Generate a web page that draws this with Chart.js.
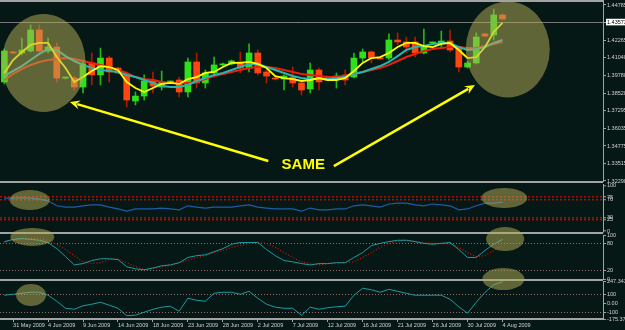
<!DOCTYPE html>
<html>
<head>
<meta charset="utf-8">
<title>EURUSD, Daily</title>
<script src="https://cdn.jsdelivr.net/npm/chart.js@4/dist/chart.umd.min.js"></script>
<style>
  html, body { margin: 0; padding: 0; background: #061816; overflow: hidden; }
  #terminal { position: relative; width: 625px; height: 330px; }
  #terminal canvas { position: absolute; left: 0; top: 0; }
</style>
</head>
<body>
<div id="terminal">
  <canvas id="priceChart" width="625" height="330"></canvas>
  <canvas id="rsiChart" width="625" height="330"></canvas>
  <canvas id="stochChart" width="625" height="330"></canvas>
  <canvas id="cciChart" width="625" height="330"></canvas>
</div>
<script>
// Daily bars, 29 May - 4 Aug 2009 (Sunday bars included)
const dates = [
    '29 May 2009', '31 May 2009', '1 Jun 2009', '2 Jun 2009', '3 Jun 2009', '4 Jun 2009', '5 Jun 2009', '7 Jun 2009',
    '8 Jun 2009', '9 Jun 2009', '10 Jun 2009', '11 Jun 2009', '12 Jun 2009', '14 Jun 2009', '15 Jun 2009', '16 Jun 2009',
    '17 Jun 2009', '18 Jun 2009', '19 Jun 2009', '21 Jun 2009', '22 Jun 2009', '23 Jun 2009', '24 Jun 2009', '25 Jun 2009',
    '26 Jun 2009', '28 Jun 2009', '29 Jun 2009', '30 Jun 2009', '1 Jul 2009', '2 Jul 2009', '3 Jul 2009', '5 Jul 2009',
    '6 Jul 2009', '7 Jul 2009', '8 Jul 2009', '9 Jul 2009', '10 Jul 2009', '12 Jul 2009', '13 Jul 2009', '14 Jul 2009',
    '15 Jul 2009', '16 Jul 2009', '17 Jul 2009', '19 Jul 2009', '20 Jul 2009', '21 Jul 2009', '22 Jul 2009', '23 Jul 2009',
    '24 Jul 2009', '26 Jul 2009', '27 Jul 2009', '28 Jul 2009', '29 Jul 2009', '30 Jul 2009', '31 Jul 2009', '2 Aug 2009',
    '3 Aug 2009', '4 Aug 2009'
];
const emptySlots = 11; // chart shift on the right

const opens = [
    1.3932, 1.4145, 1.4138, 1.4152, 1.4301, 1.4152, 1.4180, 1.3960, 1.3960, 1.3896,
    1.4067, 1.3982, 1.4102, 1.4031, 1.3989, 1.3797, 1.3832, 1.3946, 1.3896, 1.3932,
    1.3946, 1.3861, 1.4074, 1.3925, 1.3996, 1.4053, 1.4060, 1.4074, 1.4031, 1.4138,
    1.4003, 1.3960, 1.3953, 1.3967, 1.3925, 1.3882, 1.4017, 1.3967, 1.3953, 1.3982,
    1.3967, 1.4102, 1.4145, 1.4102, 1.4102, 1.4230, 1.4216, 1.4216, 1.4138, 1.4209,
    1.4202, 1.4223, 1.4180, 1.4038, 1.4067, 1.4273, 1.4266, 1.4408
];
const highs = [
    1.4166, 1.4152, 1.4244, 1.4337, 1.4337, 1.4244, 1.4209, 1.3967, 1.3974, 1.4088,
    1.4138, 1.4173, 1.4116, 1.4038, 1.4003, 1.3861, 1.3982, 1.4003, 1.4010, 1.3939,
    1.3967, 1.4102, 1.4138, 1.4017, 1.4109, 1.4067, 1.4088, 1.4145, 1.4202, 1.4159,
    1.4017, 1.3967, 1.3982, 1.4038, 1.3946, 1.4067, 1.4031, 1.3974, 1.3996, 1.4017,
    1.4138, 1.4166, 1.4152, 1.4109, 1.4273, 1.4280, 1.4251, 1.4251, 1.4308, 1.4216,
    1.4294, 1.4301, 1.4187, 1.4081, 1.4280, 1.4280, 1.4450, 1.4415
];
const lows = [
    1.3918, 1.4131, 1.4124, 1.4145, 1.4145, 1.4138, 1.3932, 1.3953, 1.3875, 1.3854,
    1.3911, 1.3911, 1.3932, 1.3989, 1.3754, 1.3769, 1.3804, 1.3854, 1.3875, 1.3925,
    1.3825, 1.3825, 1.3889, 1.3889, 1.3967, 1.4045, 1.4053, 1.3996, 1.4003, 1.3982,
    1.3925, 1.3946, 1.3875, 1.3896, 1.3840, 1.3854, 1.3875, 1.3939, 1.3889, 1.3911,
    1.3960, 1.4074, 1.4067, 1.4095, 1.4088, 1.4195, 1.4138, 1.4109, 1.4131, 1.4202,
    1.4180, 1.4145, 1.4003, 1.4031, 1.4060, 1.4251, 1.4230, 1.4372
];
const closes = [
    1.4152, 1.4138, 1.4159, 1.4301, 1.4152, 1.4180, 1.3960, 1.3967, 1.3896, 1.4060,
    1.3982, 1.4102, 1.4003, 1.3996, 1.3804, 1.3832, 1.3939, 1.3903, 1.3932, 1.3939,
    1.3861, 1.4074, 1.3925, 1.3996, 1.4053, 1.4060, 1.4081, 1.4031, 1.4138, 1.3996,
    1.3974, 1.3953, 1.3974, 1.3925, 1.3875, 1.4017, 1.3932, 1.3946, 1.3974, 1.3946,
    1.4102, 1.4145, 1.4102, 1.4095, 1.4230, 1.4216, 1.4180, 1.4138, 1.4187, 1.4216,
    1.4223, 1.4159, 1.4038, 1.4067, 1.4251, 1.4258, 1.4408, 1.4379
];

// moving averages on the price window
const maFast = [
    1.3996, 1.4088, 1.4145, 1.4195, 1.4209, 1.4209, 1.4109, 1.4031, 1.3932, 1.3967,
    1.4010, 1.4045, 1.4038, 1.4017, 1.3932, 1.3889, 1.3861, 1.3889, 1.3918, 1.3925,
    1.3918, 1.3953, 1.3967, 1.3996, 1.4003, 1.4038, 1.4067, 1.4067, 1.4074, 1.4060,
    1.4031, 1.3974, 1.3960, 1.3953, 1.3939, 1.3946, 1.3960, 1.3946, 1.3946, 1.3960,
    1.4010, 1.4067, 1.4102, 1.4109, 1.4138, 1.4180, 1.4209, 1.4209, 1.4187, 1.4180,
    1.4202, 1.4209, 1.4159, 1.4102, 1.4109, 1.4180, 1.4287, 1.4351
];
const maMid = [
    1.3974, 1.4010, 1.4045, 1.4088, 1.4131, 1.4166, 1.4159, 1.4116, 1.4081, 1.4053,
    1.4031, 1.4017, 1.4010, 1.4003, 1.3982, 1.3967, 1.3946, 1.3925, 1.3903, 1.3896,
    1.3896, 1.3911, 1.3939, 1.3960, 1.3982, 1.3996, 1.4017, 1.4038, 1.4060, 1.4060,
    1.4038, 1.4017, 1.3996, 1.3974, 1.3960, 1.3953, 1.3953, 1.3953, 1.3960, 1.3967,
    1.3989, 1.4003, 1.4024, 1.4045, 1.4074, 1.4116, 1.4159, 1.4180, 1.4187, 1.4202,
    1.4209, 1.4209, 1.4180, 1.4159, 1.4166, 1.4180, 1.4209, 1.4230
];
const maSlow = [
    1.3946, 1.3989, 1.4024, 1.4053, 1.4074, 1.4088, 1.4095, 1.4102, 1.4095, 1.4081,
    1.4067, 1.4053, 1.4038, 1.4017, 1.3996, 1.3967, 1.3953, 1.3946, 1.3932, 1.3925,
    1.3925, 1.3925, 1.3932, 1.3953, 1.3974, 1.3989, 1.4003, 1.4017, 1.4031, 1.4038,
    1.4038, 1.4031, 1.4017, 1.4003, 1.3989, 1.3982, 1.3974, 1.3967, 1.3967, 1.3974,
    1.3989, 1.4003, 1.4017, 1.4031, 1.4053, 1.4081, 1.4109, 1.4131, 1.4152, 1.4166,
    1.4173, 1.4180, 1.4180, 1.4173, 1.4173, 1.4187, 1.4202, 1.4216
];

// indicator windows
const rsiLine = [
    73, 73, 74, 73, 71, 67, 56, 53, 53, 56,
    58, 58, 53, 49, 44, 49, 49, 49, 51, 49,
    47, 56, 53, 51, 53, 53, 53, 56, 58, 53,
    51, 49, 49, 49, 44, 51, 47, 47, 49, 49,
    56, 58, 56, 53, 60, 62, 62, 58, 56, 60,
    58, 56, 47, 49, 56, 62, 62, 64
];
const stochMain = [
    85, 90, 92, 90, 88, 83, 69, 51, 32, 35,
    42, 46, 46, 44, 28, 23, 21, 25, 30, 32,
    37, 49, 53, 55, 62, 69, 79, 83, 83, 83,
    67, 53, 42, 39, 35, 32, 35, 35, 37, 37,
    49, 60, 76, 81, 85, 88, 88, 85, 81, 79,
    81, 83, 67, 49, 49, 65, 79, 90
];
const stochSignal = [
    83, 88, 90, 92, 92, 88, 79, 67, 53, 39,
    35, 37, 44, 46, 37, 28, 21, 23, 28, 32,
    37, 42, 49, 53, 60, 65, 72, 76, 81, 83,
    81, 72, 60, 49, 39, 35, 32, 35, 37, 37,
    39, 49, 60, 72, 81, 85, 88, 85, 83, 81,
    81, 79, 72, 60, 51, 53, 65, 76
];
const cciLine = [
    89, 100, 111, 122, 122, 89, 22, -56, -67, -28,
    -11, 11, -22, -56, -139, -133, -100, -67, -44, -33,
    -89, 56, 33, 22, 111, 122, 122, 100, 133, 56,
    -11, -44, -56, -56, -133, -44, -67, -50, -39, -33,
    89, 167, 150, 122, 155, 133, 110, 89, 89, 89,
    89, 44, -39, -111, 11, 122, 205, 240
];

// axis ticks as printed on the right-hand scale
const priceTicks = [1.32290, 1.33515, 1.34775, 1.36035, 1.37295, 1.38520, 1.39780, 1.41040, 1.42265, 1.43525, 1.44785];
const lastPrice = 1.43573;
const rsiTicks = [0, 25, 30, 70, 75, 100];
const rsiLevels = [25, 30, 70, 75];
const stochTicks = [0, 20, 80, 100];
const stochLevels = [20, 80];
const cciTicks = [-175.3707, -100, 0, 100, 247.3436];
const cciTickLabels = ['-175.3707', '-100', '0.00', '100', '247.3436'];
const cciLevels = [-100, 100];

const AXIS_GRAY = '#a3a3a3';
const LABEL = '#d2d2d2';
const HILITE = 'rgba(180, 172, 88, 0.52)';
const ARROW = '#ffff00';
const tickFont = { family: 'Liberation Sans', size: 5.5 };
const categories = dates.concat(Array(emptySlots).fill(''));

Chart.defaults.font.family = 'Liberation Sans';

function rightAxis(min, max, values, format, levels, level, tickExtra) {
    return {
        position: 'right',
        min: min,
        max: max,
        afterBuildTicks: function(scale) {
            scale.ticks = values.map(v => ({ value: v }));
        },
        afterFit: function(scale) {
            scale.width = 22;
            scale.paddingTop = 0;
            scale.paddingBottom = 0;
        },
        grid: {
            drawOnChartArea: true,
            color: ctx => (ctx.tick && levels.includes(ctx.tick.value)) ? level.color : 'transparent',
            lineWidth: level.width,
            tickColor: AXIS_GRAY,
            tickLength: 3,
            tickWidth: 1
        },
        border: {
            display: true,
            color: AXIS_GRAY,
            width: 1,
            dash: ctx => (ctx.tick && levels.includes(ctx.tick.value)) ? level.dash : []
        },
        ticks: Object.assign({
            autoSkip: false,
            padding: 1,
            color: LABEL,
            font: tickFont,
            callback: format
        }, tickExtra || {})
    };
}

function hiddenX() {
    return { type: 'category', offset: true, display: false };
}

function lineSet(data, color, width, dash) {
    return {
        type: 'line',
        data: data,
        borderColor: color,
        borderWidth: width,
        borderDash: dash || [],
        pointRadius: 0,
        tension: 0,
        fill: false
    };
}

function drawArrow(ctx, from, to) {
    const ang = Math.atan2(to[1] - from[1], to[0] - from[0]);
    const head = 11;
    ctx.strokeStyle = ARROW;
    ctx.fillStyle = ARROW;
    ctx.lineWidth = 2.5;
    ctx.beginPath();
    ctx.moveTo(from[0], from[1]);
    ctx.lineTo(to[0] - Math.cos(ang) * head * 0.7, to[1] - Math.sin(ang) * head * 0.7);
    ctx.stroke();
    ctx.beginPath();
    ctx.moveTo(to[0], to[1]);
    ctx.lineTo(to[0] - head * Math.cos(ang - 0.42), to[1] - head * Math.sin(ang - 0.42));
    ctx.lineTo(to[0] - head * 0.6 * Math.cos(ang), to[1] - head * 0.6 * Math.sin(ang));
    ctx.lineTo(to[0] - head * Math.cos(ang + 0.42), to[1] - head * Math.sin(ang + 0.42));
    ctx.closePath();
    ctx.fill();
}

// separators, highlight ellipses, arrows and caption, anchored on the chart's own scales
function overlay(cfg) {
    return {
        id: 'overlay',
        afterDraw(chart) {
            const { ctx, chartArea } = chart;
            const xs = chart.scales.x, ys = chart.scales.y;
            const at = p => [xs.getPixelForValue(p[0]), ys.getPixelForValue(p[1])];
            ctx.save();
            ctx.strokeStyle = AXIS_GRAY;
            ctx.lineWidth = 2;
            (cfg.rules || []).forEach(edge => {
                const yy = edge === 'top' ? chartArea.top + 1 : chartArea.bottom + 1;
                ctx.beginPath();
                ctx.moveTo(0, yy);
                ctx.lineTo(chartArea.right, yy);
                ctx.stroke();
            });
            (cfg.ellipses || []).forEach(e => {
                const c = at(e.at);
                ctx.beginPath();
                ctx.ellipse(c[0], c[1], e.rx, e.ry, 0, 0, Math.PI * 2);
                ctx.fillStyle = HILITE;
                ctx.fill();
            });
            (cfg.arrows || []).forEach(a => drawArrow(ctx, at(a.from), at(a.to)));
            (cfg.texts || []).forEach(t => {
                const c = at(t.at);
                ctx.font = 'bold 15px "Liberation Sans"';
                ctx.fillStyle = ARROW;
                ctx.textAlign = 'center';
                ctx.textBaseline = 'middle';
                ctx.fillText(t.text, c[0], c[1]);
            });
            ctx.restore();
        }
    };
}

const baseOptions = (padTop, padBottom) => ({
    responsive: false,
    animation: false,
    events: [],
    layout: { padding: { top: padTop, bottom: padBottom, left: 0, right: 0 } },
    plugins: { legend: { display: false }, tooltip: { enabled: false } }
});

// price window with candles
function createPriceChart() {
    const up = closes.map((c, i) => c >= opens[i]);
    const bodies = opens.map((o, i) => [o, closes[i]]);
    const wicks = lows.map((l, i) => [l, highs[i]]);
    const options = baseOptions(0, 149);
    options.scales = {
        x: hiddenX(),
        y: rightAxis(1.32289, 1.4514, priceTicks.concat([lastPrice]), v => v.toFixed(5),
            [lastPrice], { color: '#7a7a7a', width: 1, dash: [] }, {
                color: ctx => (ctx.tick && ctx.tick.value === lastPrice) ? '#000000' : LABEL,
                showLabelBackdrop: ctx => !!(ctx.tick && ctx.tick.value === lastPrice),
                backdropColor: '#ffffff',
                backdropPadding: { top: 0, bottom: 0, left: 1, right: 2 }
            })
    };
    new Chart(document.getElementById('priceChart'), {
        type: 'bar',
        data: {
            labels: categories,
            datasets: [
                Object.assign(lineSet(maFast, '#ffff00', 1.8), { order: 0 }),
                Object.assign(lineSet(maMid, '#2bb3ad', 2), { order: 1 }),
                Object.assign(lineSet(maSlow, '#e8200c', 2), { order: 2 }),
                {
                    type: 'bar', data: bodies, order: 3, grouped: false,
                    backgroundColor: up.map(u => u ? '#2ee01a' : '#ff4510'),
                    barThickness: 6, minBarLength: 1, borderWidth: 0
                },
                {
                    type: 'bar', data: wicks, order: 4, grouped: false,
                    backgroundColor: up.map(u => u ? '#22b812' : '#b01800'),
                    barThickness: 1, borderWidth: 0
                }
            ]
        },
        options: options,
        plugins: [overlay({
            rules: ['top', 'bottom'],
            ellipses: [
                { at: [4.5, 1.4067], rx: 42, ry: 49 },
                { at: [57.6, 1.4163], rx: 42, ry: 48 }
            ],
            arrows: [
                { from: [30.2, 1.3371], to: [7.5, 1.3790] },
                { from: [37.7, 1.3335], to: [53.85, 1.3910] }
            ],
            texts: [{ at: [34.2, 1.3343], text: 'SAME' }]
        })]
    });
}

function createRsiChart() {
    const options = baseOptions(184, 98);
    options.scales = {
        x: hiddenX(),
        y: rightAxis(-2.2, 104.4, rsiTicks, v => String(v), rsiLevels,
            { color: '#b40a00', width: 1.5, dash: [2, 2] })
    };
    new Chart(document.getElementById('rsiChart'), {
        type: 'line',
        data: { labels: categories, datasets: [lineSet(rsiLine, '#1f5ca8', 1.2)] },
        options: options,
        plugins: [overlay({
            rules: ['bottom'],
            ellipses: [
                { at: [2.9, 68.9], rx: 20, ry: 10 },
                { at: [57.2, 73.3], rx: 23, ry: 10 }
            ]
        })]
    });
}

function createStochChart() {
    const options = baseOptions(235, 51);
    options.scales = {
        x: hiddenX(),
        y: rightAxis(0, 100, stochTicks, v => String(v), stochLevels,
            { color: '#9a6a6a', width: 1, dash: [1, 2] })
    };
    new Chart(document.getElementById('stochChart'), {
        type: 'line',
        data: {
            labels: categories,
            datasets: [
                lineSet(stochMain, '#1f9aa0', 1),
                lineSet(stochSignal, '#c81400', 1.3, [1, 2])
            ]
        },
        options: options,
        plugins: [overlay({
            rules: ['bottom'],
            ellipses: [
                { at: [3.2, 95.5], rx: 22, ry: 9 },
                { at: [57.3, 90.9], rx: 19, ry: 12 }
            ]
        })]
    });
}

function createCciChart() {
    const options = baseOptions(281, 0);
    options.scales = {
        x: {
            type: 'category',
            offset: true,
            display: true,
            afterBuildTicks: function(scale) {
                // a date every fourth bar, starting on 31 May
                scale.ticks = scale.ticks.filter(t => t.value >= 1 && t.value < dates.length && (t.value - 1) % 4 === 0);
            },
            afterFit: function(scale) {
                scale.height = 11;
                scale.paddingLeft = 0;
                scale.paddingRight = 0;
            },
            grid: { drawOnChartArea: false, offset: false, tickColor: AXIS_GRAY, tickLength: 3 },
            border: { display: true, color: AXIS_GRAY, width: 2 },
            ticks: { autoSkip: false, maxRotation: 0, align: 'start', padding: 0, color: LABEL, font: tickFont }
        },
        y: rightAxis(-175.3707, 247.3436, cciTicks, (v, i) => cciTickLabels[i], cciLevels,
            { color: '#9a6a6a', width: 1, dash: [1, 2] })
    };
    new Chart(document.getElementById('cciChart'), {
        type: 'line',
        data: { labels: categories, datasets: [lineSet(cciLine, '#1f9aa0', 1)] },
        options: options,
        plugins: [overlay({
            ellipses: [
                { at: [3.05, 91.6], rx: 15, ry: 11 },
                { at: [57.1, 269.6], rx: 21, ry: 11 }
            ]
        })]
    });
}

createPriceChart();
createRsiChart();
createStochChart();
createCciChart();
</script>
</body>
</html>
